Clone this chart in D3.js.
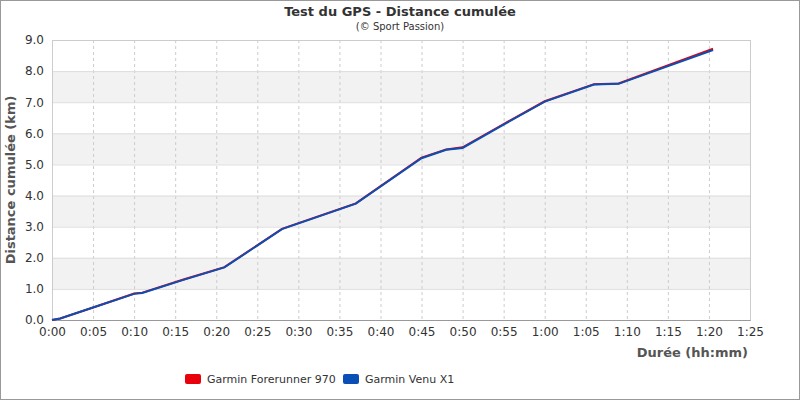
<!DOCTYPE html><html><head><meta charset="utf-8"><script src="https://cdn.jsdelivr.net/npm/d3@7"></script>
<style>body{margin:0;background:#fff}</style></head><body><svg id="c" width="800" height="400"></svg>
<script>
const minutes = [0,1,5,10,11,16,21,28,37,45,48,50,55,60,66,69,80.5];
const forerunner = [0,0.05,0.4,0.85,0.88,1.3,1.7,2.93,3.75,5.22,5.48,5.55,6.3,7.03,7.58,7.6,8.72];
const venu = [0,0.05,0.4,0.84,0.87,1.29,1.69,2.92,3.74,5.2,5.47,5.53,6.28,7.02,7.57,7.59,8.68];
const xTicks = [0,5,10,15,20,25,30,35,40,45,50,55,60,65,70,75,80,85];
const yTicks = [0,1,2,3,4,5,6,7,8,9];
const seriesNames = ["Garmin Forerunner 970","Garmin Venu X1"];
const colors = ["#e8000b","#0a4fb5"];

const svg = d3.select("#c");
svg.append("rect").attr("x",0.5).attr("y",0.5).attr("width",799).attr("height",399).attr("fill","#fff").attr("stroke","#999");
const x = d3.scaleLinear().domain([0,85]).range([52,750]);
const y = d3.scaleLinear().domain([0,9]).range([320,40]);
const fmt = m => Math.floor(m/60)+":"+String(m%60).padStart(2,"0");
// bands
for(let i=0;i<9;i++){ if(i%2==1) svg.append("rect").attr("x",x(0)).attr("y",y(i+1)).attr("width",x(85)-x(0)).attr("height",y(i)-y(i+1)).attr("fill","#f2f2f2"); }
const g = svg.append("g");
xTicks.forEach(t=>g.append("line").attr("x1",x(t)+0.5).attr("x2",x(t)+0.5).attr("y1",40).attr("y2",320).attr("stroke","#ccc").attr("stroke-dasharray",t==0?null:"3,3"));
yTicks.forEach(t=>g.append("line").attr("x1",52).attr("x2",750).attr("y1",y(t)+0.5).attr("y2",y(t)+0.5).attr("stroke","#ddd"));
svg.append("rect").attr("x",52.5).attr("y",40.5).attr("width",698).attr("height",280).attr("fill","none").attr("stroke","#ccc");
svg.append("g").attr("transform","translate(0,320)").call(d3.axisBottom(x).tickValues(xTicks).tickFormat(fmt).tickSize(0).tickPadding(7))
 .call(a=>{a.select(".domain").attr("stroke","#999");a.selectAll("text").attr("font-family","DejaVu Sans").attr("font-size",12).attr("fill","#333");});
svg.append("g").attr("transform","translate(52,0)").call(d3.axisLeft(y).tickValues(yTicks).tickFormat(d3.format(".1f")).tickSize(0).tickPadding(8))
 .call(a=>{a.select(".domain").remove();a.selectAll("text").attr("font-family","DejaVu Sans").attr("font-size",12).attr("fill","#333");});
const line = d3.line().x(d=>x(d[0])).y(d=>y(d[1]));
[forerunner,venu].forEach((s,i)=>svg.append("path").datum(minutes.map((m,j)=>[m,s[j]])).attr("d",line).attr("fill","none").attr("stroke",colors[i]).attr("stroke-width",2));
svg.append("text").attr("x",400).attr("y",16).attr("text-anchor","middle").attr("font-family","DejaVu Sans").attr("font-weight","bold").attr("font-size",13).attr("fill","#333").text("Test du GPS - Distance cumulée");
svg.append("text").attr("x",400).attr("y",30).attr("text-anchor","middle").attr("font-family","DejaVu Sans").attr("font-size",10).attr("fill","#333").text("(© Sport Passion)");
svg.append("text").attr("x",748).attr("y",357).attr("text-anchor","end").attr("font-family","DejaVu Sans").attr("font-weight","bold").attr("font-size",13).attr("fill","#555").text("Durée (hh:mm)");
svg.append("text").attr("transform","translate(15,180) rotate(-90)").attr("text-anchor","middle").attr("font-family","DejaVu Sans").attr("font-weight","bold").attr("font-size",13).attr("fill","#555").text("Distance cumulée (km)");
const lx=[185,343];
seriesNames.forEach((n,i)=>{svg.append("rect").attr("x",lx[i]).attr("y",374).attr("width",16).attr("height",10).attr("rx",2).attr("fill",colors[i]);
 svg.append("text").attr("x",lx[i]+22).attr("y",383).attr("font-family","DejaVu Sans").attr("font-size",11).attr("fill","#333").text(n);});
</script></body></html>
